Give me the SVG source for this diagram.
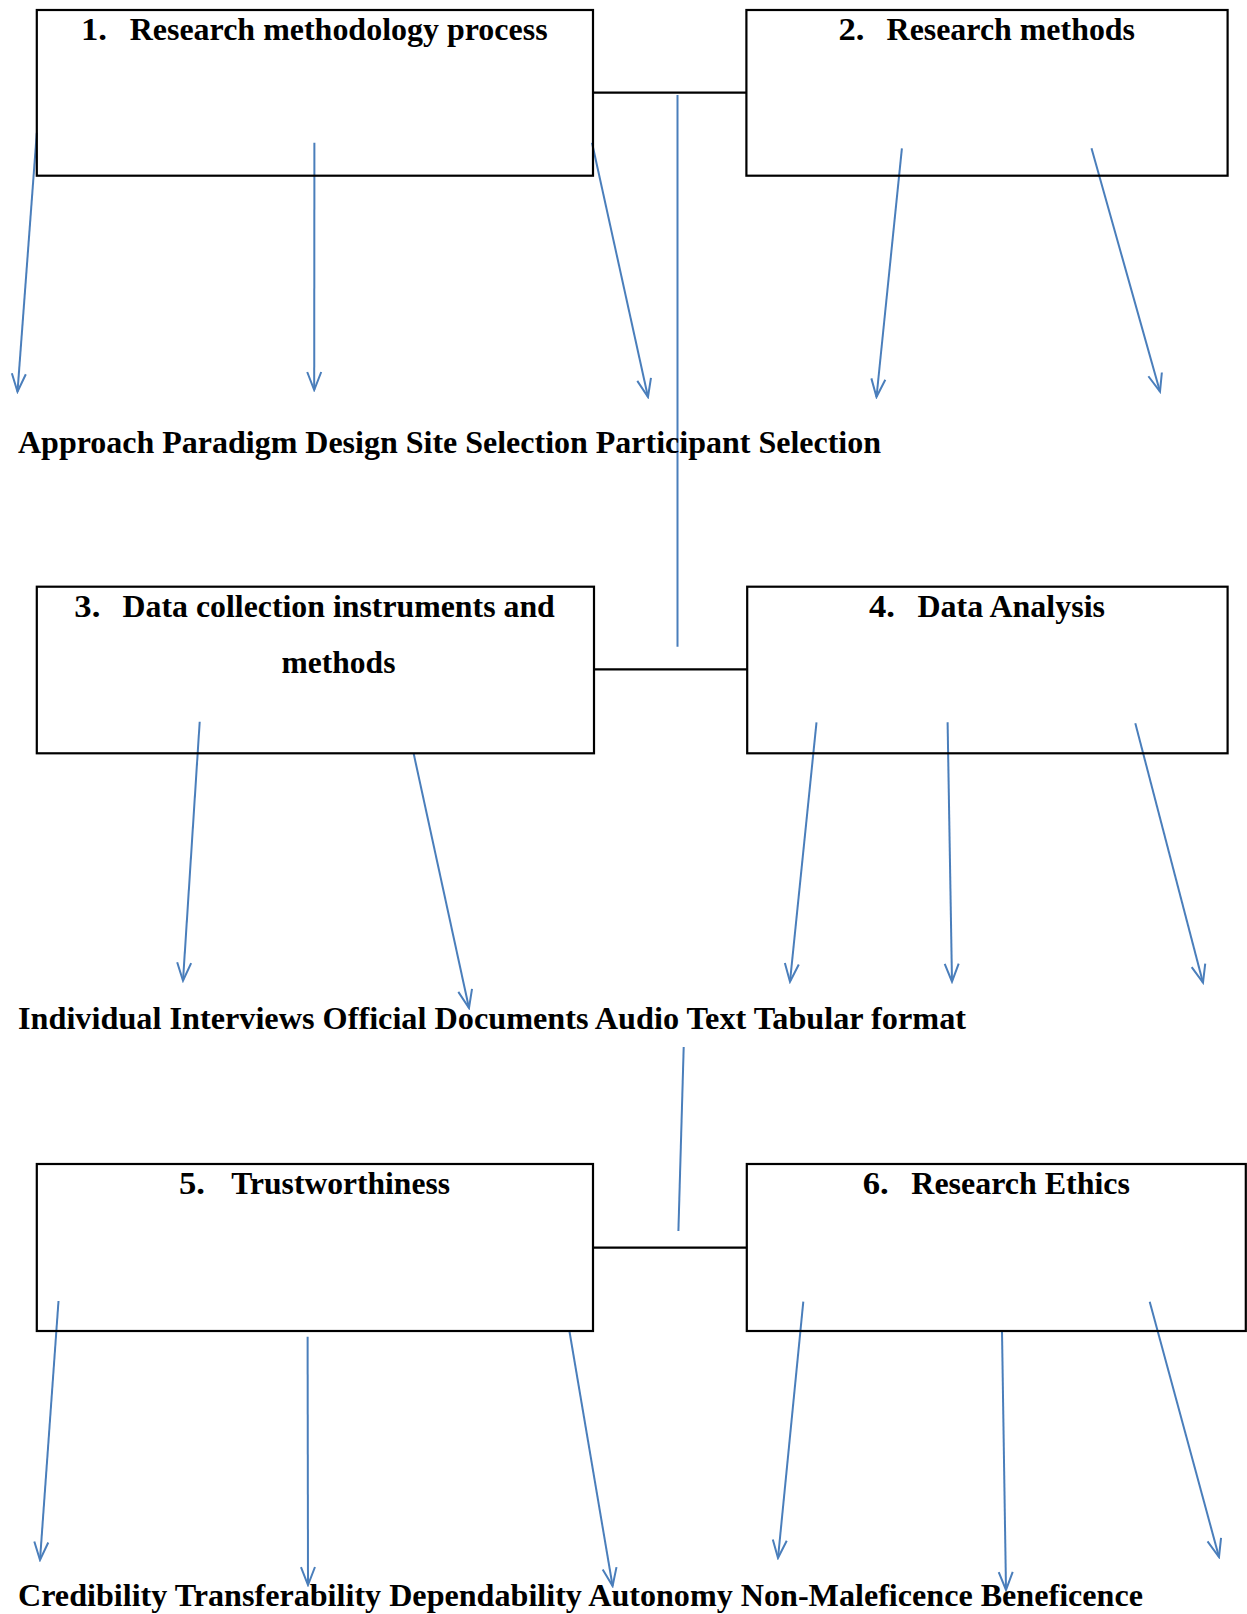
<svg xmlns="http://www.w3.org/2000/svg" width="1247" height="1614" viewBox="0 0 1247 1614">
<style>
.box{fill:none;stroke:#000;stroke-width:2.2}
.link{stroke:#000;stroke-width:2.2;fill:none}
.blue{stroke:#4A7EBB;stroke-width:2;fill:none}
.arr{stroke:#4A7EBB;stroke-width:2;fill:none;marker-end:url(#vhead)}
text{font-family:"Liberation Serif","Times New Roman",serif;font-weight:bold;font-size:32px;fill:#000}
</style>
<defs>
<marker id="vhead" markerUnits="userSpaceOnUse" markerWidth="22" markerHeight="18" viewBox="-20 -9 22 18" refX="0" refY="0" orient="auto">
<path d="M-18,-7 L0,0 L-18,7" fill="none" stroke="#4A7EBB" stroke-width="2"/>
</marker>
</defs>
<rect width="1247" height="1614" fill="#fff"/>
<g id="connectors">
<line class="link" x1="593" y1="92.7" x2="746.5" y2="92.7"/>
<line class="link" x1="594" y1="669.3" x2="747.2" y2="669.3"/>
<line class="link" x1="593" y1="1247.7" x2="746.8" y2="1247.7"/>
<line class="blue" x1="677.5" y1="95" x2="677.5" y2="646.7"/>
<line class="blue" x1="683.7" y1="1047" x2="678.4" y2="1231"/>
<line class="arr" x1="36.8" y1="132.7" x2="17.5" y2="391.7"/>
<line class="arr" x1="314.4" y1="142.7" x2="314.2" y2="390"/>
<line class="arr" x1="592" y1="142.7" x2="648" y2="397"/>
<line class="arr" x1="901.9" y1="148.3" x2="876.5" y2="397"/>
<line class="arr" x1="1091.5" y1="148.3" x2="1160" y2="391.7"/>
<line class="arr" x1="199.7" y1="721.7" x2="183" y2="980.7"/>
<line class="arr" x1="413.6" y1="753.3" x2="469" y2="1008"/>
<line class="arr" x1="816.5" y1="722.3" x2="790" y2="981.7"/>
<line class="arr" x1="947.6" y1="722.3" x2="952" y2="981.7"/>
<line class="arr" x1="1135.3" y1="723.3" x2="1203" y2="982.7"/>
<line class="arr" x1="58.5" y1="1301" x2="40" y2="1560"/>
<line class="arr" x1="307.6" y1="1336.7" x2="308" y2="1585"/>
<line class="arr" x1="569.4" y1="1331" x2="612.6" y2="1586"/>
<line class="arr" x1="803.3" y1="1301.7" x2="778" y2="1558"/>
<line class="arr" x1="1002" y1="1331" x2="1006" y2="1590"/>
<line class="arr" x1="1149.7" y1="1301.7" x2="1219" y2="1557"/>
</g>
<g id="node1">
<rect class="box" x="36.8" y="10" width="556.2" height="165.7"/>
<text x="81" y="40" textLength="26" lengthAdjust="spacingAndGlyphs">1.</text>
<text x="129.7" y="40" textLength="417.9" lengthAdjust="spacingAndGlyphs">Research methodology process</text>
</g>
<g id="node2">
<rect class="box" x="746.4" y="10" width="481.2" height="165.7"/>
<text x="838.4" y="40" textLength="26" lengthAdjust="spacingAndGlyphs">2.</text>
<text x="886.6" y="40" textLength="248.4" lengthAdjust="spacingAndGlyphs">Research methods</text>
</g>
<g id="node3">
<rect class="box" x="36.8" y="586.7" width="557.2" height="166.6"/>
<text x="74.3" y="617" textLength="26" lengthAdjust="spacingAndGlyphs">3.</text>
<text x="122.6" y="617" textLength="432.2" lengthAdjust="spacingAndGlyphs">Data collection instruments and</text>
<text x="281.5" y="673" textLength="113.9" lengthAdjust="spacingAndGlyphs">methods</text>
</g>
<g id="node4">
<rect class="box" x="747.2" y="586.7" width="480.4" height="166.6"/>
<text x="868.9" y="617" textLength="26" lengthAdjust="spacingAndGlyphs">4.</text>
<text x="917.5" y="617" textLength="187.5" lengthAdjust="spacingAndGlyphs">Data Analysis</text>
</g>
<g id="node5">
<rect class="box" x="36.8" y="1164" width="556.2" height="167"/>
<text x="179" y="1194" textLength="26" lengthAdjust="spacingAndGlyphs">5.</text>
<text x="231.3" y="1194" textLength="218.7" lengthAdjust="spacingAndGlyphs">Trustworthiness</text>
</g>
<g id="node6">
<rect class="box" x="746.8" y="1164" width="499" height="167"/>
<text x="862.7" y="1194" textLength="26" lengthAdjust="spacingAndGlyphs">6.</text>
<text x="911.3" y="1194" textLength="218.7" lengthAdjust="spacingAndGlyphs">Research Ethics</text>
</g>
<g id="labels">
<text x="18" y="453" textLength="863" lengthAdjust="spacingAndGlyphs">Approach Paradigm Design Site Selection Participant Selection</text>
<text x="18" y="1029" textLength="948" lengthAdjust="spacingAndGlyphs">Individual Interviews Official Documents Audio Text Tabular format</text>
<text x="18" y="1606" textLength="1125" lengthAdjust="spacingAndGlyphs">Credibility Transferability Dependability Autonomy Non-Maleficence Beneficence</text>
</g>
</svg>
